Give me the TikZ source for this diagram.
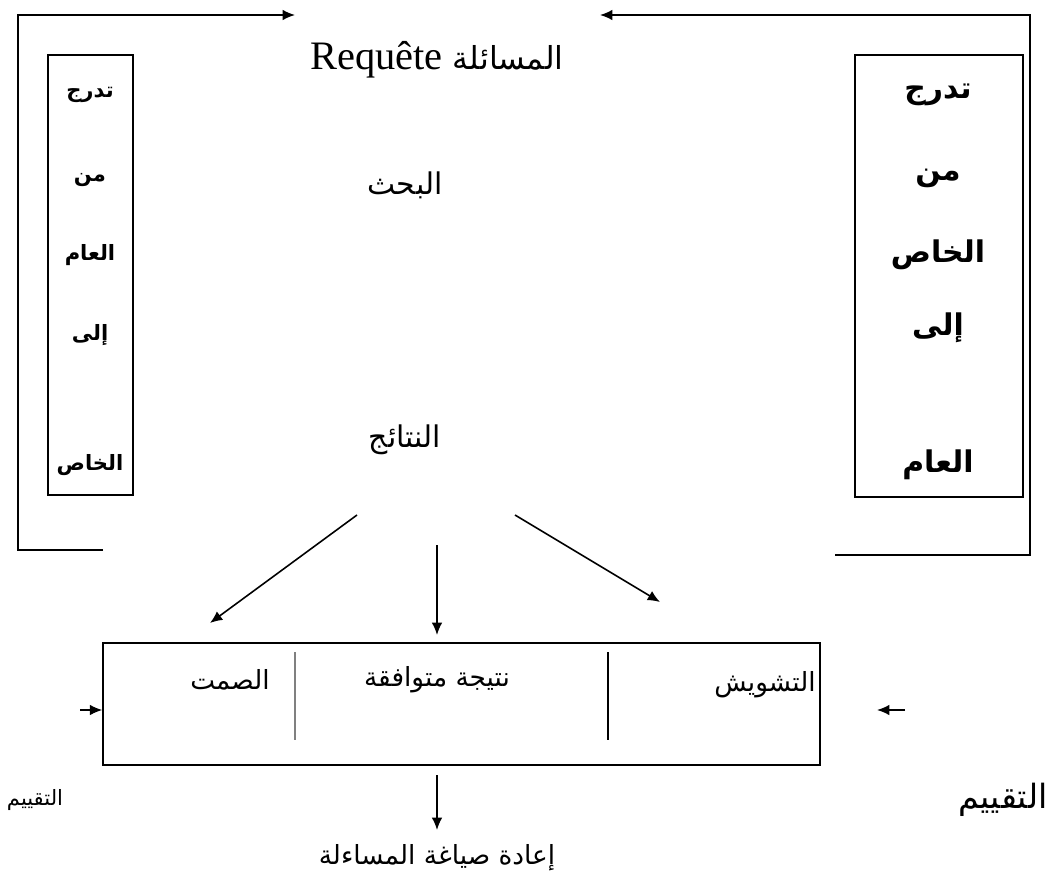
\documentclass[tikz,border=0pt]{standalone}
\usepackage{fontspec}
\setmainfont{Liberation Serif}
\newfontfamily\arabicfont[Script=Arabic]{DejaVu Sans}
\TeXXeTstate=1
\newcommand{\artxt}[1]{{\arabicfont\beginR #1\endR}}
\usetikzlibrary{arrows.meta}

\begin{document}
\begin{tikzpicture}[x=0.02cm,y=-0.02cm,>={Latex[length=7pt,width=6pt]},line width=0.9pt,
    word node/.style={font=\fontsize{17}{19}\selectfont},
    small word/.style={font=\bfseries\fontsize{12}{14}\selectfont},
    big word/.style={font=\bfseries\fontsize{17}{19}\selectfont},
    part node/.style={font=\fontsize{15}{17}\selectfont}]
    \useasboundingbox (0,0) rectangle (1047,885);

    % query, search, results
    \node[word node] (req) at (437,60) {\fontsize{23}{25}\selectfont Requête\ \artxt{\fontsize{18}{20}\selectfont المسائلة}};
    \node[word node] (bahth) at (405,185) {\artxt{البحث}};
    \node[word node] (nataij) at (405,440) {\artxt{النتائج}};

    % left frame
    \coordinate (lb) at (103,550);
    \coordinate (lc) at (18,15);
    \coordinate (la) at (295,15);
    \draw[->] (lb) -| (lc) -- (la);
    \draw (48,55) rectangle (133,495);
    \node[small word] (l1) at (90,95) {\artxt{تدرج}};
    \node[small word] (l2) at (90,180) {\artxt{من}};
    \node[small word] (l3) at (90,255) {\artxt{العام}};
    \node[small word] (l4) at (90,335) {\artxt{إلى}};
    \node[small word] (l5) at (90,465) {\artxt{الخاص}};

    % right frame
    \coordinate (rb) at (835,555);
    \coordinate (rc) at (1030,15);
    \coordinate (ra) at (600,15);
    \draw[->] (rb) -| (rc) -- (ra);
    \draw (855,55) rectangle (1023,497);
    \node[big word] (r1) at (938,95) {\artxt{تدرج}};
    \node[big word] (r2) at (938,178) {\artxt{من}};
    \node[big word] (r3) at (938,255) {\artxt{الخاص}};
    \node[big word] (r4) at (938,328) {\artxt{إلى}};
    \node[big word] (r5) at (938,465) {\artxt{العام}};

    % three outcomes
    \coordinate (s1) at (357,515);
    \coordinate (e1) at (210,623);
    \coordinate (s2) at (437,545);
    \coordinate (e2) at (437,635);
    \coordinate (s3) at (515,515);
    \coordinate (e3) at (660,602);
    \draw[->] (s1) -- (e1);
    \draw[->] (s2) -- (e2);
    \draw[->] (s3) -- (e3);

    \node[draw,minimum width=14.34cm,minimum height=2.44cm] (evalbox) at (461.5,704) {};
    \draw[gray] (295,652) -- (295,740);
    \draw (608,652) -- (608,740);
    \node[part node] (samt) at (230,680) {\artxt{الصمت}};
    \node[part node] (match) at (437,680) {\artxt{نتيجة متوافقة}};
    \node[part node] (noise) at (765,685) {\artxt{التشويش}};

    % evaluation
    \coordinate (ea) at (80,710);
    \draw[->] (ea) -- (ea -| evalbox.west);
    \coordinate (eb) at (905,710);
    \coordinate (ec) at (877,710);
    \draw[->] (eb) -- (ec);
    \node[font=\fontsize{12}{14}\selectfont] (evl) at (35,800) {\artxt{التقييم}};
    \node[font=\fontsize{19}{21}\selectfont] (evr) at (1003,800) {\artxt{التقييم}};

    % reformulation
    \coordinate (s4) at (437,775);
    \coordinate (e4) at (437,830);
    \draw[->] (s4) -- (e4);
    \node[part node] (reform) at (437,858) {\artxt{إعادة صياغة المساءلة}};
\end{tikzpicture}
\end{document}
